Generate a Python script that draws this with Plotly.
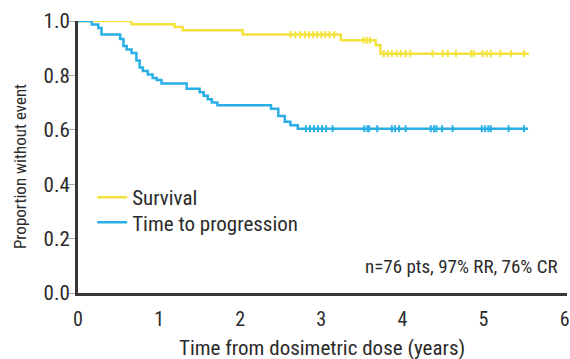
import numpy as np
import plotly.graph_objects as go

# Survival curve (time in years, proportion without event)
surv_t = [0, 0.66, 1.19, 1.29, 2.03, 3.24, 3.67, 3.73, 5.56]
surv_s = [1.0, 0.988, 0.978, 0.966, 0.950, 0.929, 0.911, 0.880, 0.880]
surv_cens = [2.62, 2.68, 2.74, 2.80, 2.85, 2.90, 2.95, 3.00, 3.05, 3.10, 3.16,
             3.52, 3.56, 3.60, 3.77, 3.82, 3.87, 3.93, 3.98, 4.04, 4.10,
             4.37, 4.50, 4.56, 4.66, 4.85, 4.88, 4.99, 5.04, 5.09, 5.21, 5.34, 5.50]

# Time to progression curve
ttp_t = [0, 0.17, 0.25, 0.29, 0.52, 0.56, 0.60, 0.66, 0.72, 0.76, 0.80, 0.86, 0.92,
         0.97, 1.03, 1.34, 1.50, 1.55, 1.60, 1.65, 1.72, 2.38, 2.47, 2.55, 2.62, 2.71, 5.55]
ttp_s = [1.0, 0.987, 0.974, 0.950, 0.934, 0.908, 0.895, 0.882, 0.855, 0.829, 0.816, 0.803, 0.790,
         0.783, 0.770, 0.751, 0.738, 0.725, 0.712, 0.700, 0.690, 0.677, 0.651, 0.630, 0.617, 0.604, 0.604]
ttp_cens = [2.81, 2.86, 2.91, 2.96, 3.01, 3.06, 3.14, 3.53, 3.57, 3.59, 3.69,
            3.87, 3.91, 3.96, 4.04, 4.35, 4.39, 4.42, 4.49, 4.62,
            4.98, 5.02, 5.06, 5.09, 5.31, 5.50]

x_ticks = [0, 1, 2, 3, 4, 5, 6]
y_ticks = [0.0, 0.2, 0.4, 0.6, 0.8, 1.0]

YELLOW = "#f4e23c"
BLUE = "#2aaee6"
AXIS = "#3b3536"
TXT = "#2b2b2b"
FONT = "Liberation Sans Narrow, Roboto Condensed, Arial Narrow, Liberation Sans, sans-serif"


def step_val(ts, ss, x):
    idx = np.searchsorted(np.array(ts), np.array(x), side="right") - 1
    return [ss[i] for i in idx]


fig = go.Figure()
fig.add_trace(go.Scatter(x=surv_t, y=surv_s, mode="lines", line=dict(color=YELLOW, width=2.5, shape="hv"),
                         name="Survival", legend="legend"))
fig.add_trace(go.Scatter(x=ttp_t, y=ttp_s, mode="lines", line=dict(color=BLUE, width=2.5, shape="hv"),
                         name="Time to progression", legend="legend2"))
fig.add_trace(go.Scatter(x=surv_cens, y=step_val(surv_t, surv_s, surv_cens), mode="markers",
                         marker=dict(symbol="line-ns", size=5, line=dict(color=YELLOW, width=2)),
                         showlegend=False))
fig.add_trace(go.Scatter(x=ttp_cens, y=step_val(ttp_t, ttp_s, ttp_cens), mode="markers",
                         marker=dict(symbol="line-ns", size=5, line=dict(color=BLUE, width=2)),
                         showlegend=False))

fig.add_annotation(x=0.986, y=0.098, xref="paper", yref="paper", xanchor="right", yanchor="middle",
                   text="n=76 pts, 97% RR, 76% CR", showarrow=False,
                   font=dict(size=19, color=TXT, family=FONT))
fig.add_annotation(x=0.499, y=-0.202, xref="paper", yref="paper", xanchor="center", yanchor="middle",
                   text="Time from dosimetric dose (years)", showarrow=False,
                   font=dict(size=21, color=TXT, family=FONT))
fig.add_annotation(x=-0.1186, y=0.463, xref="paper", yref="paper", xanchor="center", yanchor="middle",
                   text="Proportion without event", showarrow=False, textangle=-90,
                   font=dict(size=17, color=TXT, family=FONT))

leg_common = dict(x=0.029, xanchor="left", yanchor="top", bgcolor="rgba(0,0,0,0)",
                  font=dict(size=21, color=TXT, family=FONT), itemwidth=30)

fig.update_layout(
    width=570, height=359,
    margin=dict(l=78, r=3, t=21, b=66),
    paper_bgcolor="white", plot_bgcolor="white",
    font=dict(family=FONT, size=20, color=TXT),
    showlegend=True,
    legend=dict(y=0.426, **leg_common),
    legend2=dict(y=0.334, **leg_common),
    xaxis=dict(range=[0, 6.03], tickvals=x_ticks, ticktext=[str(v) for v in x_ticks],
               showgrid=False, zeroline=False, showline=True, linecolor=AXIS, linewidth=3,
               ticks="", automargin=False, tickfont=dict(size=20), ticklabelstandoff=6),
    yaxis=dict(range=[0, 1.0], tickvals=y_ticks, ticktext=[f"{v:.1f}" for v in y_ticks],
               showgrid=False, zeroline=False, showline=True, linecolor=AXIS, linewidth=3,
               ticks="outside", ticklen=8, tickcolor="#aaaaaa", tickwidth=1,
               ticklabelstandoff=-7, automargin=False, tickfont=dict(size=21)),
)
fig.update_traces(cliponaxis=False)

fig.write_html("out.html", config={"displayModeBar": False},
               post_script="document.body.style.margin='0';document.body.style.overflow='hidden';")
